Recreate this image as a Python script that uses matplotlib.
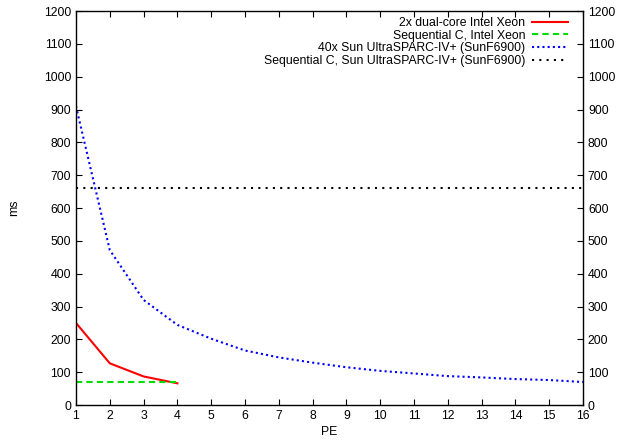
import matplotlib
matplotlib.use("Agg")
import matplotlib.pyplot as plt

plt.rcParams['font.family'] = ['Liberation Sans', 'DejaVu Sans']

pe_xeon = [1, 2, 3, 4]
xeon_par = [250, 127, 87, 66]
xeon_seq = [69, 69, 69, 69]
pe_sun = list(range(1, 17))
sun_par = [910, 472, 320, 244, 202, 166, 145, 129, 115, 104, 96, 88, 84, 79, 76, 70]
sun_seq = [660] * 16

labels = ["2x dual-core Intel Xeon", "Sequential C, Intel Xeon",
          "40x Sun UltraSPARC-IV+ (SunF6900)",
          "Sequential C, Sun UltraSPARC-IV+ (SunF6900)"]
xticks = list(range(1, 17))
yticks = list(range(0, 1201, 100))

fig = plt.figure(figsize=(6.31, 4.42), dpi=100)
ax = fig.add_axes([0.1204, 0.0837, 0.8036, 0.8913])

ax.plot(pe_xeon, xeon_par, color='#ff0000', lw=1.5, ls='-', label=labels[0])
ax.plot(pe_xeon, xeon_seq, color='#00dd00', lw=1.5, ls=(0, (3, 2)), label=labels[1])
ax.plot(pe_sun, sun_par, color='#0000ff', lw=1.5, ls=(0, (1, 1.5)), label=labels[2])
ax.plot(pe_sun, sun_seq, color='#000000', lw=1.5, ls=(0, (1, 2.5)), label=labels[3])

ax.set_xlim(1, 16)
ax.set_ylim(0, 1200)
ax.set_xticks(xticks)
ax.set_yticks(yticks)
ax.tick_params(direction='in', length=4.5, width=0.8, labelsize=8.8,
               top=True, right=True, labelright=True)
for s in ax.spines.values():
    s.set_linewidth(1.0)
ax.set_xlabel("PE", fontsize=8.8, labelpad=3)
ax.set_ylabel("ms", fontsize=8.8, labelpad=17)

leg = ax.legend(loc='upper right', bbox_to_anchor=(0.970, 0.985),
                frameon=False, markerfirst=False,
                fontsize=8.8, handlelength=2.9, handletextpad=0.6,
                labelspacing=0.05, borderaxespad=0.0, borderpad=0.0)
for t in leg.get_texts():
    t.set_ha('right')
leg._legend_box.align = "right"

fig.savefig("out.png", dpi=100)
